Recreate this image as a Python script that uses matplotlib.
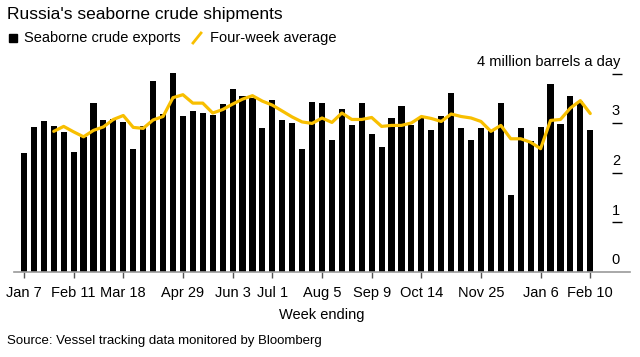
import matplotlib
matplotlib.use("Agg")
import matplotlib.pyplot as plt
from matplotlib.patches import Rectangle
from matplotlib.lines import Line2D

plt.rcParams['font.family'] = ['Liberation Sans', 'DejaVu Sans']

# weekly seaborne crude exports, million barrels a day (Jan 7 2023 .. Feb 10 2024)
exports = [2.41, 2.92, 3.04, 2.94, 2.82, 2.43, 2.73, 3.42, 3.06, 3.09,
           3.02, 2.49, 2.94, 3.85, 3.20, 4.01, 3.16, 3.26, 3.21, 3.18,
           3.40, 3.70, 3.56, 3.51, 2.90, 3.48, 3.06, 3.00, 2.49, 3.44,
           3.42, 2.67, 3.30, 2.96, 3.42, 2.79, 2.53, 3.10, 3.36, 2.96,
           3.11, 2.86, 3.14, 3.61, 2.90, 2.67, 2.90, 2.84, 3.41, 1.55,
           2.90, 2.65, 2.92, 3.80, 2.98, 3.56, 3.45, 2.86]

# four-week average, starts with the 4th week
avg_start = 3
four_week_avg = [2.84, 2.94, 2.83, 2.73, 2.86, 2.93, 3.08, 3.16, 2.92, 2.90,
                 3.07, 3.14, 3.52, 3.58, 3.41, 3.41, 3.21, 3.28, 3.39, 3.49,
                 3.56, 3.45, 3.37, 3.25, 3.13, 3.03, 3.00, 3.11, 3.02, 3.21,
                 3.08, 3.08, 3.12, 2.94, 2.96, 2.96, 3.01, 3.14, 3.10, 3.04,
                 3.19, 3.14, 3.11, 3.04, 2.84, 2.96, 2.69, 2.69, 2.62, 2.49,
                 3.06, 3.08, 3.31, 3.46, 3.20]

tick_pos = [0, 5, 10, 16, 21, 25, 30, 35, 40, 46, 52, 57]
tick_labels = ["Jan 7", "Feb 11", "Mar 18", "Apr 29", "Jun 3", "Jul 1",
               "Aug 5", "Sep 9", "Oct 14", "Nov 25", "Jan 6", "Feb 10"]
y_ticks = [0, 1, 2, 3, 4]

yellow = "#F8BF00"
grey = "#9a9a9a"

fig = plt.figure(figsize=(6.4, 3.57), dpi=100)
ax = fig.add_axes([14 / 640, 85 / 357, 616 / 640, 208 / 357])

x = list(range(len(exports)))
ax.bar(x, exports, width=0.62, color="black", zorder=2)
avg_x = list(range(avg_start, avg_start + len(four_week_avg)))
ax.plot(avg_x, four_week_avg, color=yellow, lw=2.3, zorder=3,
        solid_joinstyle="round", solid_capstyle="round")

ax.set_xlim(-1, 61)
ax.set_ylim(0, 4.2)

for s in ["top", "right", "left"]:
    ax.spines[s].set_visible(False)
ax.spines["bottom"].set_color(grey)
ax.spines["bottom"].set_linewidth(1.2)
ax.spines["bottom"].set_zorder(4)

ax.set_xticks(tick_pos)
ax.set_xticklabels(tick_labels, fontsize=10.5)
ax.tick_params(axis="x", length=4, width=1, color="#555555", pad=6)
ax.set_yticks([])

# right side y-axis: short tick lines with labels sitting above them
ax.hlines(y_ticks[1:], 59.2, 60.2, color="black", lw=1, zorder=2)
for v in y_ticks:
    lbl = f"{v} million barrels a day" if v == 4 else str(v)
    ax.text(60.0, v + 0.1, lbl, ha="right", va="bottom", fontsize=10.5)

ax.set_xlabel("Week ending", fontsize=10.5, labelpad=6)

fig.text(7 / 640, 1 - 14 / 357, "Russia's seaborne crude shipments",
         fontsize=12.5, va="center", ha="left")

# legend
fig.patches.append(Rectangle((9 / 640, 1 - 42 / 357), 8 / 640, 8 / 357,
                             transform=fig.transFigure, color="black"))
fig.text(24 / 640, 1 - 38 / 357, "Seaborne crude exports", fontsize=10.5,
         va="center", ha="left")
fig.lines.append(Line2D([193 / 640, 201 / 640], [1 - 43 / 357, 1 - 33 / 357],
                        transform=fig.transFigure, color=yellow, lw=2))
fig.text(210 / 640, 1 - 38 / 357, "Four-week average", fontsize=10.5,
         va="center", ha="left")

fig.text(7 / 640, 1 - 341 / 357,
         "Source: Vessel tracking data monitored by Bloomberg",
         fontsize=9.5, va="center", ha="left")

fig.savefig("out.png", dpi=100)
